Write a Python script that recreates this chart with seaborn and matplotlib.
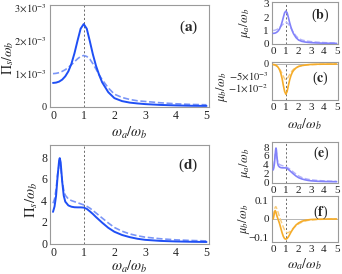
import matplotlib
matplotlib.use("Agg")
import matplotlib.pyplot as plt
import seaborn as sns
from matplotlib.ticker import MultipleLocator, FixedLocator, FuncFormatter

# --- data ---
w = [0, 0.1, 0.2, 0.3, 0.4, 0.5, 0.6, 0.7, 0.8, 0.9, 1.0, 1.1, 1.2, 1.3, 1.4,
     1.5, 1.6, 1.8, 2.0, 2.25, 2.5, 2.75, 3.0, 3.5, 4.0, 4.5, 5.0]

# (a) Pi_s / omega_b, units of 1e-3
pi_a_solid = [0.72, 0.73, 0.76, 0.82, 0.92, 1.07, 1.30, 1.62, 2.00, 2.36, 2.50, 2.36, 1.98,
              1.58, 1.24, 0.97, 0.74, 0.44, 0.26, 0.17, 0.125, 0.1, 0.08, 0.055, 0.04, 0.03, 0.025]
pi_a_dash = [1.00, 1.01, 1.03, 1.07, 1.12, 1.19, 1.27, 1.36, 1.45, 1.52, 1.55, 1.52, 1.44,
             1.30, 1.14, 0.97, 0.82, 0.57, 0.38, 0.28, 0.22, 0.18, 0.16, 0.12, 0.09, 0.07, 0.06]

# (b) mu_a / omega_b
mu_a_b_solid = [0.78, 0.79, 0.82, 0.88, 0.97, 1.11, 1.33, 1.63, 1.99, 2.33, 2.46, 2.33, 1.97,
                1.58, 1.25, 0.98, 0.76, 0.46, 0.28, 0.18, 0.13, 0.1, 0.08, 0.055, 0.04, 0.03, 0.025]
mu_a_b_dash = [1.00, 1.01, 1.04, 1.08, 1.14, 1.21, 1.30, 1.40, 1.49, 1.57, 1.60, 1.57, 1.48,
               1.34, 1.17, 1.00, 0.85, 0.59, 0.40, 0.29, 0.23, 0.19, 0.16, 0.12, 0.09, 0.07, 0.06]

# (c) mu_b / omega_b
mu_b_c_solid = [-0.0002, -0.0003, -0.0005, -0.0009, -0.0015, -0.0025, -0.0040, -0.0062, -0.0092,
                -0.0118, -0.0130, -0.0118, -0.0092, -0.0068, -0.0050, -0.0037, -0.0028, -0.0017,
                -0.0011, -0.0007, -0.0005, -0.0003, -0.0002, -0.0001, -0.00007, -0.00005, -0.00003]
mu_b_c_dash = [-0.0004, -0.0005, -0.0007, -0.0010, -0.0015, -0.0022, -0.0030, -0.0041, -0.0053,
               -0.0064, -0.0068, -0.0064, -0.0055, -0.0045, -0.0036, -0.0029, -0.0023, -0.0015,
               -0.0010, -0.0007, -0.0005, -0.0004, -0.0003, -0.0002, -0.00012, -0.00008, -0.00005]

wd = [0, 0.05, 0.1, 0.15, 0.2, 0.22, 0.25, 0.3, 0.35, 0.4, 0.5, 0.6, 0.7, 0.8, 0.9, 1.0,
      1.1, 1.2, 1.3, 1.4, 1.6, 1.8, 2.0, 2.25, 2.5, 2.75, 3.0, 3.5, 4.0, 4.5, 5.0]

# (d) Pi_s / omega_b
pi_d_solid = [2.9, 3.4, 4.4, 6.2, 7.7, 7.9, 7.5, 5.7, 4.4, 3.85, 3.5, 3.38, 3.33, 3.32, 3.32, 3.3,
              3.18, 2.95, 2.7, 2.42, 1.9, 1.42, 1.05, 0.75, 0.55, 0.4, 0.3, 0.2, 0.15, 0.12, 0.1]
pi_d_dash = [3.7, 4.1, 5.0, 6.4, 7.3, 7.35, 7.0, 5.8, 4.9, 4.45, 4.1, 3.95, 3.85, 3.75, 3.65, 3.55,
             3.42, 3.25, 3.03, 2.8, 2.33, 1.87, 1.45, 1.1, 0.85, 0.68, 0.55, 0.4, 0.3, 0.24, 0.2]

# (e) mu_a / omega_b
mu_a_e_solid = [2.8, 3.3, 4.3, 6.1, 7.6, 7.8, 7.4, 5.6, 4.35, 3.8, 3.45, 3.33, 3.28, 3.27, 3.27, 3.25,
                3.13, 2.9, 2.66, 2.38, 1.87, 1.4, 1.03, 0.74, 0.54, 0.4, 0.3, 0.2, 0.15, 0.12, 0.1]
mu_a_e_dash = [3.6, 4.0, 4.9, 6.3, 7.2, 7.25, 6.9, 5.7, 4.85, 4.4, 4.05, 3.9, 3.8, 3.7, 3.6, 3.5,
               3.37, 3.2, 3.0, 2.77, 2.3, 1.85, 1.43, 1.08, 0.84, 0.67, 0.54, 0.4, 0.3, 0.24, 0.2]

# (f) mu_b / omega_b
mu_b_f_solid = [0.0, 0.015, 0.035, 0.045, 0.04, 0.035, 0.027, 0.015, 0.005, -0.005, -0.025, -0.05,
                -0.075, -0.095, -0.107, -0.11, -0.106, -0.097, -0.085, -0.072, -0.05, -0.033,
                -0.022, -0.013, -0.008, -0.005, -0.003, -0.0015, -0.001, -0.0005, -0.0003]
mu_b_f_dash = [0.015, 0.03, 0.05, 0.063, 0.067, 0.066, 0.062, 0.053, 0.043, 0.033, 0.012, -0.008,
               -0.027, -0.045, -0.06, -0.07, -0.075, -0.074, -0.07, -0.064, -0.05, -0.037,
               -0.027, -0.018, -0.012, -0.008, -0.006, -0.003, -0.002, -0.001, -0.0005]

BLUE = "#1f4ff5"
BLUE_L = "#7a95f7"
LAV = "#8282fa"
LAV_L = "#b4b4fb"
ORANGE = "#f5ac2a"
ORANGE_L = "#f8cc7c"
FRAME = "#9a9a9a"

sns.set_style("white")
plt.rcParams["font.family"] = ["Liberation Serif", "DejaVu Serif"]
plt.rcParams["mathtext.fontset"] = "stix"

fig = plt.figure(figsize=(3.42, 2.74), dpi=100)

def make_ax(rect, xlim, ylim, fs):
    ax = fig.add_axes(rect)
    ax.set_xlim(*xlim)
    ax.set_ylim(*ylim)
    for s in ax.spines.values():
        s.set_color(FRAME)
        s.set_linewidth(0.8)
    ax.xaxis.set_major_locator(MultipleLocator(1))
    ax.xaxis.set_minor_locator(MultipleLocator(0.2))
    ax.tick_params(which="both", direction="in", color=FRAME, width=0.6,
                   labelsize=fs, labelcolor="#222222", pad=2)
    ax.tick_params(which="major", length=3.5)
    ax.tick_params(which="minor", length=1.8)
    ax.axvline(1, color="#555555", lw=0.6, ls=(0, (2.5, 2.5)), zorder=1)
    return ax

def draw(ax, x, solid, dash, c_solid, c_dash, lw=1.4):
    sns.lineplot(x=x, y=dash, ax=ax, color=c_dash, lw=lw * 0.85, linestyle="--", zorder=2)
    sns.lineplot(x=x, y=solid, ax=ax, color=c_solid, lw=lw, zorder=3)
    ax.set_xlabel("")
    ax.set_ylabel("")

def tag(ax, letter, x, y, fs=11):
    ax.text(x, y, "(" + r"$\mathbf{" + letter + "}$" + ")", transform=ax.transAxes,
            ha="center", va="center", fontsize=fs)

xl_main = (-0.1, 5.08)
xl_side = (-0.13, 5.13)
xlab = r"$\omega_a/\omega_b$"

# (a)
ax_a = make_ax([0.146, 0.608, 0.465, 0.373], xl_main, (-0.02e-3, 3.07e-3), 8.5)
draw(ax_a, w, [v * 1e-3 for v in pi_a_solid], [v * 1e-3 for v in pi_a_dash], BLUE, BLUE_L)
ax_a.yaxis.set_major_locator(FixedLocator([0, 1e-3, 2e-3, 3e-3]))
ax_a.yaxis.set_minor_locator(MultipleLocator(0.2e-3))
ax_a.set_yticklabels(["0", r"$1\!\times\!10^{-3}$", r"$2\!\times\!10^{-3}$", r"$3\!\times\!10^{-3}$"],
                     fontsize=7.5)
ax_a.set_ylabel(r"$\Pi_s/\omega_b$", fontsize=10)
ax_a.yaxis.set_label_coords(-0.212, 0.49)
ax_a.set_xlabel(xlab, fontsize=10.5, labelpad=2)
tag(ax_a, "a", 0.87, 0.785)

# (d)
ax_d = make_ax([0.146, 0.109, 0.465, 0.361], xl_main, (-0.1, 9.1), 8.5)
draw(ax_d, wd, pi_d_solid, pi_d_dash, BLUE, BLUE_L)
ax_d.yaxis.set_major_locator(MultipleLocator(2))
ax_d.yaxis.set_minor_locator(MultipleLocator(0.4))
ax_d.set_ylabel(r"$\Pi_s/\omega_b$", fontsize=10.5)
ax_d.yaxis.set_label_coords(-0.065, 0.45)
ax_d.set_xlabel(xlab, fontsize=10.5, labelpad=0)
tag(ax_d, "d", 0.87, 0.80)

# (b)
ax_b = make_ax([0.794, 0.838, 0.195, 0.155], xl_side, (-0.05, 3.15), 8)
draw(ax_b, w, mu_a_b_solid, mu_a_b_dash, LAV, LAV_L, lw=1.2)
ax_b.yaxis.set_major_locator(MultipleLocator(1))
ax_b.yaxis.set_minor_locator(MultipleLocator(0.2))
ax_b.set_ylabel(r"$\mu_a/\omega_b$", fontsize=9)
ax_b.yaxis.set_label_coords(-0.28, 0.5)
tag(ax_b, "b", 0.725, 0.69, fs=10)

# (c)
ax_c = make_ax([0.794, 0.635, 0.195, 0.140], xl_side, (-0.0155, 0.001), 8)
ax_c.axhline(0, color="#aaaaaa", lw=0.6, zorder=1)
draw(ax_c, w, mu_b_c_solid, mu_b_c_dash, ORANGE, ORANGE_L, lw=1.2)
ax_c.yaxis.set_major_locator(FixedLocator([-0.01, -0.005, 0]))
ax_c.yaxis.set_minor_locator(MultipleLocator(0.001))
ax_c.set_yticklabels([r"$-1\!\times\!10^{-2}$", r"$-5\!\times\!10^{-3}$", "0"], fontsize=7.5)
ax_c.set_ylabel(r"$\mu_b/\omega_b$", fontsize=9)
ax_c.yaxis.set_label_coords(-0.63, 0.35)
ax_c.set_xlabel(xlab, fontsize=10, labelpad=3)
tag(ax_c, "c", 0.725, 0.57, fs=10)

# (e)
ax_e = make_ax([0.794, 0.332, 0.195, 0.150], xl_side, (-0.2, 9.2), 8)
draw(ax_e, wd, mu_a_e_solid, mu_a_e_dash, LAV, LAV_L, lw=1.2)
ax_e.yaxis.set_major_locator(MultipleLocator(2))
ax_e.yaxis.set_minor_locator(MultipleLocator(0.4))
ax_e.set_ylabel(r"$\mu_a/\omega_b$", fontsize=9)
ax_e.yaxis.set_label_coords(-0.28, 0.5)
tag(ax_e, "e", 0.74, 0.73, fs=10)

# (f)
ax_f = make_ax([0.794, 0.117, 0.195, 0.168], xl_side, (-0.125, 0.125), 8)
ax_f.axhline(0, color="#aaaaaa", lw=0.6, zorder=1)
draw(ax_f, wd, mu_b_f_solid, mu_b_f_dash, ORANGE, ORANGE_L, lw=1.2)
ax_f.yaxis.set_major_locator(MultipleLocator(0.1))
ax_f.yaxis.set_minor_locator(MultipleLocator(0.02))
ax_f.yaxis.set_major_formatter(FuncFormatter(
    lambda v, p: "0" if abs(v) < 1e-9 else ("%.1f" % v).replace("-", "\u2212")))
ax_f.set_ylabel(r"$\mu_b/\omega_b$", fontsize=9)
ax_f.yaxis.set_label_coords(-0.30, 0.5)
ax_f.set_xlabel(xlab, fontsize=10, labelpad=2)
tag(ax_f, "f", 0.74, 0.65, fs=10)

fig.savefig("out.png", dpi=100, facecolor="white")
